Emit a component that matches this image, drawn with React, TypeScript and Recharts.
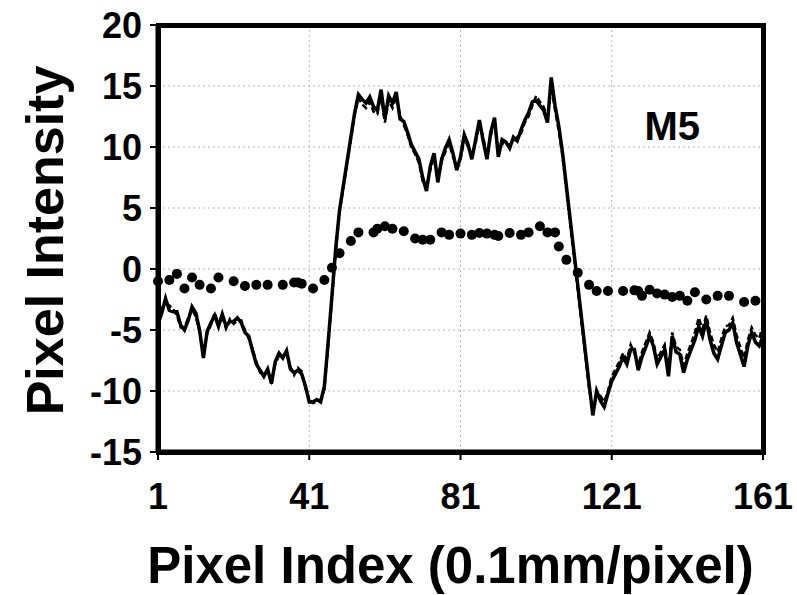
import React from 'react';
import {
  ComposedChart,
  Line,
  Scatter,
  XAxis,
  YAxis,
  CartesianGrid,
  ReferenceDot,
  Label,
} from 'recharts';

// pixel index 1..161
const pixelIndex = Array.from({ length: 161 }, (_, i) => i + 1);

// solid profile
const solidSeries = [
  -4.5, -3.6, -2.4, -3.4, -3.5, -3.5, -4.6, -5.0, -4.2, -3.1,
  -3.6, -5.0, -7.3, -5.1, -4.4, -3.8, -4.7, -3.7, -4.7, -4.3,
  -4.3, -4.0, -4.4, -5.2, -5.5, -6.7, -7.8, -8.3, -8.8, -8.2,
  -9.4, -7.6, -6.9, -7.3, -6.7, -8.2, -8.5, -8.3, -8.6, -9.6,
  -10.9, -10.9, -10.7, -10.9, -9.6, -6.0, -2.2, 1.7, 4.8, 6.8,
  8.8, 10.8, 12.8, 14.3, 13.9, 13.6, 14.1, 13.3, 13.0, 14.7,
  12.3, 14.2, 13.6, 14.5, 12.3, 12.1, 11.2, 10.2, 9.6, 9.0,
  7.5, 6.4, 8.4, 9.5, 7.1, 9.0, 9.9, 10.6, 9.5, 8.1,
  9.2, 11.0, 10.2, 9.0, 10.6, 12.2, 10.5, 9.0, 11.2, 12.4,
  9.2, 10.6, 10.4, 9.9, 10.8, 10.5, 11.4, 12.2, 12.8, 13.7,
  13.8, 13.4, 13.0, 12.0, 15.7, 13.4, 11.7, 9.5, 6.8, 4.1,
  1.4, -1.3, -4.0, -6.7, -9.4, -12.0, -10.0, -10.8, -11.3, -10.2,
  -9.2, -8.6, -8.0, -7.2, -7.8, -6.6, -6.6, -8.3, -7.2, -6.4,
  -5.5, -6.3, -7.8, -7.2, -6.6, -8.8, -5.5, -6.8, -7.0, -8.5,
  -7.4, -6.6, -5.8, -4.7, -5.5, -4.2, -5.8, -6.9, -7.4, -6.3,
  -5.2, -5.0, -4.4, -6.0, -7.0, -8.0, -6.3, -5.2, -6.0, -6.3,
  -5.5,
];

// dashed profile
const dashedSeries = [
  -4.8, -3.2, -2.8, -3.0, -3.3, -3.8, -4.8, -4.8, -4.0, -3.3,
  -3.9, -5.2, -7.0, -5.3, -4.6, -3.6, -4.5, -3.9, -4.9, -4.1,
  -4.5, -4.2, -4.2, -5.0, -5.7, -6.5, -7.6, -8.5, -8.6, -8.4,
  -9.2, -7.8, -7.1, -7.1, -6.9, -8.0, -8.7, -8.1, -8.4, -9.8,
  -10.7, -11.0, -10.9, -10.7, -9.9, -6.3, -2.5, 1.4, 4.6, 6.6,
  8.6, 10.6, 12.6, 14.0, 13.5, 13.2, 13.7, 12.9, 12.7, 14.2,
  12.0, 13.8, 13.2, 14.1, 12.6, 11.8, 11.0, 10.0, 9.4, 8.7,
  7.2, 6.7, 8.1, 9.2, 7.4, 8.8, 9.6, 10.3, 9.2, 8.4,
  9.0, 10.7, 10.0, 9.3, 10.3, 11.9, 10.8, 9.3, 10.9, 12.1,
  9.5, 10.3, 10.1, 10.2, 10.5, 10.8, 11.1, 12.0, 12.5, 13.4,
  14.2, 13.7, 13.3, 12.4, 14.9, 13.0, 11.3, 9.2, 6.4, 3.7,
  1.0, -1.7, -4.4, -7.1, -9.8, -11.5, -10.3, -10.4, -10.9, -10.0,
  -8.8, -8.2, -7.6, -6.9, -7.4, -6.2, -6.9, -7.9, -6.8, -6.0,
  -5.2, -6.0, -7.4, -6.8, -6.2, -8.2, -5.2, -6.4, -6.6, -7.9,
  -6.9, -6.1, -5.2, -4.0, -4.9, -3.8, -5.2, -6.2, -6.8, -5.7,
  -4.7, -4.6, -4.0, -5.4, -6.4, -7.3, -5.8, -4.8, -5.4, -5.7,
  -4.6,
];

// dotted series (sampled)
const dotIndex = [
  1, 4, 6, 8, 10, 12, 15, 17, 21, 24, 27, 30, 34, 37, 38, 39, 42, 45, 47, 49,
  52, 54, 58, 59, 61, 63, 66, 69, 71, 73, 76, 78, 81, 84, 86, 88, 90, 91, 94, 97,
  99, 102, 104, 106, 107, 109, 112, 115, 117, 120, 124, 127, 128, 129, 131, 133, 135, 137, 139, 141,
  143, 146, 149, 152, 156, 159,
];
const dotValues = [
  -1.0, -0.9, -0.4, -1.6, -0.7, -1.3, -1.6, -0.7, -1.0, -1.4, -1.3, -1.3, -1.3, -1.1, -1.1, -1.2, -1.6, -0.9, 0.1, 1.3,
  2.3, 3.0, 3.0, 3.3, 3.5, 3.3, 3.1, 2.5, 2.4, 2.4, 3.0, 2.8, 2.9, 2.8, 2.95, 2.9, 2.8, 2.7, 2.95, 2.8,
  3.0, 3.5, 3.0, 3.0, 1.85, 0.75, -0.3, -1.3, -1.8, -1.8, -1.8, -1.75, -1.8, -2.2, -1.7, -2.0, -2.1, -2.3, -2.2, -2.6,
  -1.9, -2.5, -2.2, -2.2, -2.7, -2.6,
];

const xTicks = [1, 41, 81, 121, 161];
const yTicks = [-15, -10, -5, 0, 5, 10, 15, 20];
const xDomain = [1, 161];
const yDomain = [-15, 20];

const lineData = pixelIndex.map((x, i) => ({ x, solid: solidSeries[i], dashed: dashedSeries[i] }));
const dotData = dotIndex.map((x, i) => ({ x, y: dotValues[i] }));

const FONT = '"Liberation Sans", Arial, Helvetica, sans-serif';
const tickStyle = { fontFamily: FONT, fontWeight: 700, fontSize: 36, fill: '#000' };

// chart box
const W = 797;
const H = 595;
const M = { top: 25, right: 34, bottom: 0, left: 0 };
const Y_AXIS_W = 158;
const X_AXIS_H = 143;
const FRAME = 5;

const YTitle = (props: any) => {
  const { viewBox } = props;
  const cx = viewBox.x + 45;
  const cy = viewBox.y + viewBox.height / 2 + 2;
  return (
    <text
      x={cx}
      y={cy}
      transform={`rotate(-90 ${cx} ${cy})`}
      textAnchor="middle"
      dominantBaseline="central"
      fontFamily={FONT}
      fontWeight={700}
      fontSize={52}
      fill="#000"
    >
      Pixel Intensity
    </text>
  );
};

const XTitle = (props: any) => {
  const { viewBox } = props;
  const cx = viewBox.x + viewBox.width / 2 - 10;
  const y = viewBox.y + viewBox.height - 12;
  return (
    <text x={cx} y={y} textAnchor="middle" fontFamily={FONT} fontWeight={700} fontSize={51} fill="#000">
      Pixel Index (0.1mm/pixel)
    </text>
  );
};

export default function App() {
  // thick box round the plot area
  const plotLeft = M.left + Y_AXIS_W;
  const plotTop = M.top;
  const plotW = W - M.right - plotLeft;
  const plotH = H - M.bottom - X_AXIS_H - plotTop;

  return (
    <div style={{ position: 'absolute', left: 0, top: 0, width: W, height: H, background: '#fff' }}>
      <ComposedChart width={W} height={H} data={lineData} margin={M}>
        <CartesianGrid stroke="#b5b5b5" strokeDasharray="2 3" />
        <XAxis
          dataKey="x"
          type="number"
          domain={xDomain}
          ticks={xTicks}
          height={X_AXIS_H}
          axisLine={{ stroke: '#000', strokeWidth: FRAME }}
          tickLine={{ stroke: '#000', strokeWidth: 2 }}
          tickSize={8}
          tickMargin={23}
          tick={tickStyle}
        >
          <Label content={<XTitle />} />
        </XAxis>
        <YAxis
          type="number"
          domain={yDomain}
          ticks={yTicks}
          width={Y_AXIS_W}
          axisLine={{ stroke: '#000', strokeWidth: FRAME }}
          tickLine={{ stroke: '#000', strokeWidth: 2 }}
          tickSize={8}
          tickMargin={8}
          tick={tickStyle}
        >
          <Label content={<YTitle />} />
        </YAxis>
        <Line
          type="linear"
          dataKey="dashed"
          stroke="#000"
          strokeWidth={2.5}
          strokeDasharray="6 3"
          dot={false}
          isAnimationActive={false}
        />
        <Line
          type="linear"
          dataKey="solid"
          stroke="#000"
          strokeWidth={3.5}
          dot={false}
          isAnimationActive={false}
        />
        <Scatter
          data={dotData}
          dataKey="y"
          fill="#000"
          isAnimationActive={false}
          shape={(p: any) => <circle cx={p.cx} cy={p.cy} r={5} fill="#000" />}
        />
        <ReferenceDot
          x={137}
          y={11.7}
          r={0}
          fill="none"
          stroke="none"
          label={{ value: 'M5', position: 'center', fontFamily: FONT, fontWeight: 700, fontSize: 40, fill: '#000' }}
        />
      </ComposedChart>
      <div
        style={{
          position: 'absolute',
          left: plotLeft - 2,
          top: plotTop - 2,
          width: plotW + FRAME,
          height: plotH + FRAME,
          border: `${FRAME}px solid #000`,
          boxSizing: 'border-box',
          pointerEvents: 'none',
        }}
      />
    </div>
  );
}
